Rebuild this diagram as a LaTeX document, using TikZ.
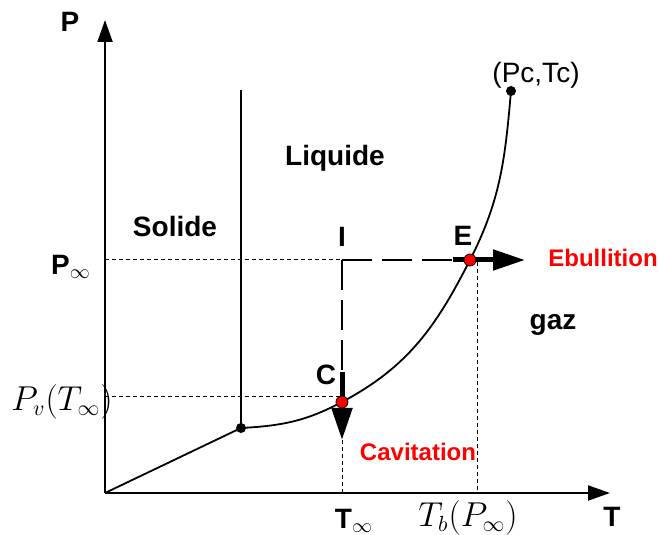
\documentclass[tikz,border=0pt]{standalone}
\usepackage{fontspec}
\setmainfont{Liberation Sans}
\usetikzlibrary{arrows.meta}

\begin{document}
\begin{tikzpicture}[x=0.5pt, y=0.5pt,
    axis/.style={line width=1pt, -{Triangle[length=11pt,width=7.5pt]}},
    phase_line/.style={line width=0.9pt},
    guide/.style={line width=0.5pt, dash pattern=on 2pt off 1.5pt},
    path_line/.style={line width=0.7pt, dash pattern=on 15pt off 5pt},
    big_arrow/.style={line width=2.5pt, -{Triangle[length=16pt,width=10pt]}},
    state_dot/.style={circle, fill=black, inner sep=0pt, minimum size=5pt},
    hit_dot/.style={circle, draw=black, fill=red, line width=0.4pt, inner sep=0pt, minimum size=6pt},
    region/.style={font=\fontsize{14}{16}\selectfont\bfseries},
    event/.style={font=\fontsize{12}{14}\selectfont\bfseries, text=red},
    plain_lbl/.style={font=\fontsize{14}{16}\selectfont},
    mathlbl/.style={font=\fontsize{16}{18}\selectfont}
]
    \useasboundingbox (0,0) rectangle (659,535);

    % points of the diagram
    \coordinate (O) at (105,42);
    \coordinate (Ptip) at (105,515);
    \coordinate (Ttip) at (610,42);
    \coordinate (trip) at (241,107);
    \coordinate (melt) at (241,445);
    \coordinate (C) at (342,133);
    \coordinate (E) at (470,275);
    \coordinate (crit) at (511,444);
    \coordinate (I) at (342,275);
    \coordinate (Pinf) at (105,275);
    \coordinate (Pv) at (105,138);
    \coordinate (pvend) at (342,138);
    \coordinate (ebstart) at (453,275);
    \coordinate (ebend) at (525,275);
    \coordinate (cavstart) at (342,163);
    \coordinate (cavend) at (342,95);
    \coordinate (Tinf) at (342,42);
    \coordinate (Tbtop) at (477,273);
    \coordinate (Tbfoot) at (477,42);

    % axes
    \draw[axis] (O) -- (Ptip);
    \draw[axis] (O) -- (Ttip);

    % phase boundaries
    \draw[phase_line] (O) -- (trip);
    \draw[phase_line] (trip) -- (melt);
    \draw[phase_line] (trip) to[out=3,in=208] (C) to[out=28,in=243] (E) to[out=63,in=265] (crit);

    % guides
    \draw[guide] (Pinf) -- (I);
    \draw[guide] (Pv) -- (pvend);
    \draw[guide] (cavend) -- (Tinf);
    \draw[guide] (Tbtop) -- (Tbfoot);

    % the two paths
    \draw[path_line] (I) -- (ebstart);
    \draw[big_arrow] (ebstart) -- (ebend);
    \draw[path_line] (I) -- (cavstart);
    \draw[big_arrow] (cavstart) -- (cavend);

    % dots
    \node[state_dot] (tripdot) at (trip) {};
    \node[state_dot] (critdot) at (crit) {};
    \node[hit_dot] (Cdot) at (C) {};
    \node[hit_dot] (Edot) at (E) {};

    % labels
    \node[region] (Plbl) at (70,513) {P};
    \node[region] (Tlbl) at (612,18) {T};
    \node[region] (liq) at (335,377) {Liquide};
    \node[region] (sol) at (175,309) {Solide};
    \node[region] (gaz) at (553,210) {gaz};
    \node[region] (Ilbl) at (342,298) {I};
    \node[region] (Elbl) at (463,299) {E};
    \node[region] (Clbl) at (326,160) {C};
    \node[event] (ebul) at (603,277) {Ebullition};
    \node[event] (cav) at (418,83) {Cavitation};
    \node[plain_lbl] (critlbl) at (536,460) {(Pc,Tc)};
    \node[region] (Tinflbl) at (354,14) {T$_{\infty}$};
    \node[region] (Pinflbl) at (71,268) {P$_{\infty}$};
    \node[mathlbl] (Pvlbl) at (62,133) {$P_v(T_\infty)$};
    \node[mathlbl] (Tblbl) at (468,17) {$T_b(P_\infty)$};
\end{tikzpicture}
\end{document}
